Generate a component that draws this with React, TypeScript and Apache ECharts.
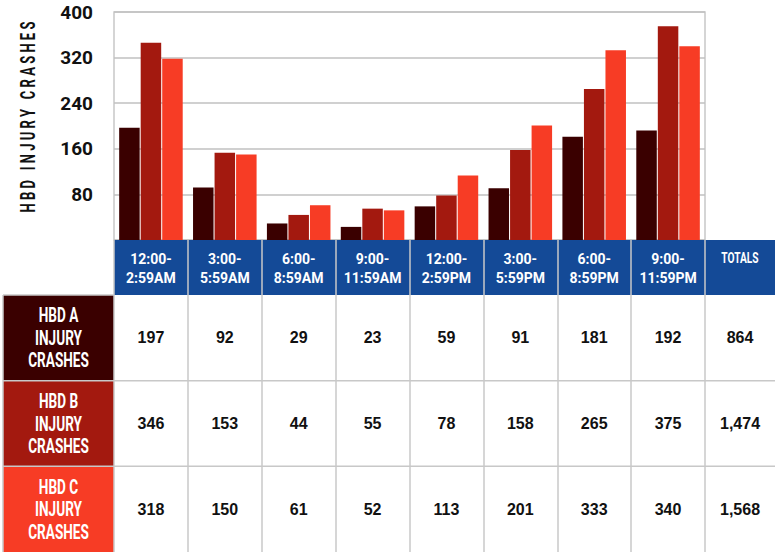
import React, { useEffect, useRef } from "react";
import * as echarts from "echarts";

const categories = [
  "12:00-\n2:59AM",
  "3:00-\n5:59AM",
  "6:00-\n8:59AM",
  "9:00-\n11:59AM",
  "12:00-\n2:59PM",
  "3:00-\n5:59PM",
  "6:00-\n8:59PM",
  "9:00-\n11:59PM",
];
const seriesLabels = ["HBD A\nINJURY\nCRASHES", "HBD B\nINJURY\nCRASHES", "HBD C\nINJURY\nCRASHES"];
const hbdA = [197, 92, 29, 23, 59, 91, 181, 192];
const hbdB = [346, 153, 44, 55, 78, 158, 265, 375];
const hbdC = [318, 150, 61, 52, 113, 201, 333, 340];
const totals = ["864", "1,474", "1,568"];
const totalsHeader = "TOTALS";
const yTitle = "H B D   I N J U R Y   C R A S H E S";
const yMin = 0;
const yMax = 400;
const yInterval = 80;

const colors = ["#3a0000", "#a3190f", "#f73c25"];
const BLUE = "#144a97";
const LINE = "#c8c8c8";
const COND = "Roboto, 'Liberation Sans', sans-serif";
const PLAIN = "'Liberation Sans', Arial, Helvetica, sans-serif";

export default function App() {
  const ref = useRef<HTMLDivElement>(null);
  useEffect(() => {
    document.body.style.margin = "0";
    if (!ref.current) return;
    const chart = echarts.init(ref.current, undefined, { renderer: "svg" });
    const W = 775, H = 552;
    const gridLeft = 114, gridTop = 12, gridRight = 70;
    const plotBottom = 240;
    const headerH = 55;
    const tableTop = plotBottom + headerH;
    const rowH = (H - tableTop) / 3;
    const plotW = W - gridLeft - gridRight;
    const colW = plotW / categories.length;
    const labelLeft = 3;
    const rows = [hbdA, hbdB, hbdC];

    const graphic: any[] = [];
    graphic.push({ type: "rect", z: 50, shape: { x: gridLeft, y: plotBottom, width: W - gridLeft, height: headerH }, style: { fill: BLUE } });
    graphic.push({ type: "text", z: 70, x: W - gridRight / 2, y: plotBottom + 18, scaleX: 0.68, style: { text: totalsHeader, fill: "#fff", font: `bold 15px ${COND}`, align: "center", verticalAlign: "middle" } });
    graphic.push({ type: "text", z: 70, x: 28, y: 117, rotation: Math.PI / 2, scaleX: 0.62, style: { text: yTitle, fill: "#111", font: `bold 21px ${COND}`, align: "center", verticalAlign: "middle" } });
    rows.forEach((vals, i) => {
      const y0 = tableTop + i * rowH;
      graphic.push({ type: "rect", z: 50, shape: { x: labelLeft, y: y0, width: gridLeft - labelLeft, height: rowH }, style: { fill: colors[i] } });
      graphic.push({ type: "text", z: 70, x: (labelLeft + gridLeft) / 2, y: y0 + rowH / 2, scaleX: 0.68, style: { text: seriesLabels[i], fill: "#fff", font: `bold 20px ${COND}`, lineHeight: 22.5, align: "center", verticalAlign: "middle" } });
      vals.forEach((v, j) => {
        graphic.push({ type: "text", z: 70, x: gridLeft + (j + 0.5) * colW, y: y0 + rowH / 2, style: { text: String(v), fill: "#111", font: `bold 16px ${PLAIN}`, align: "center", verticalAlign: "middle" } });
      });
      graphic.push({ type: "text", z: 70, x: W - gridRight / 2, y: y0 + rowH / 2, style: { text: totals[i], fill: "#111", font: `bold 16px ${PLAIN}`, align: "center", verticalAlign: "middle" } });
      if (i > 0) {
        graphic.push({ type: "line", z: 60, shape: { x1: labelLeft, y1: y0, x2: W, y2: y0 }, style: { stroke: LINE, lineWidth: 1.5 } });
      }
    });
    graphic.push({ type: "line", z: 60, shape: { x1: labelLeft, y1: tableTop, x2: gridLeft, y2: tableTop }, style: { stroke: LINE, lineWidth: 1.5 } });
    graphic.push({ type: "line", z: 60, shape: { x1: labelLeft, y1: tableTop, x2: labelLeft, y2: H }, style: { stroke: LINE, lineWidth: 1.5 } });

    const barBase = { type: "bar", barWidth: 20.5, barGap: "5%", z: 2 };
    chart.setOption({
      animation: false,
      grid: { left: gridLeft, top: gridTop, right: gridRight, bottom: H - plotBottom, outerBoundsMode: "none", containLabel: false, show: true, borderColor: LINE, borderWidth: 1.5, backgroundColor: "transparent" },
      xAxis: {
        type: "category",
        data: categories,
        z: 60,
        axisLine: { show: false },
        axisTick: { show: true, interval: 0, alignWithLabel: false, length: H - plotBottom, lineStyle: { color: LINE, width: 1.5 } },
        axisLabel: { interval: 0, margin: 9, color: "#fff", fontSize: 14, fontWeight: "bold", fontFamily: COND, lineHeight: 19.5 },
      },
      yAxis: {
        type: "value",
        min: yMin,
        max: yMax,
        interval: yInterval,
        axisLine: { show: false },
        axisTick: { show: false },
        splitLine: { lineStyle: { color: "#c0c0c0", width: 1.5 } },
        axisLabel: { margin: 21, color: "#111", fontSize: 19, fontWeight: "bold", fontFamily: COND, formatter: (v: number) => (v === 0 ? "" : String(v)) },
      },
      series: [
        { ...barBase, name: "HBD A", data: hbdA, itemStyle: { color: colors[0] } },
        { ...barBase, name: "HBD B", data: hbdB, itemStyle: { color: colors[1] } },
        { ...barBase, name: "HBD C", data: hbdC, itemStyle: { color: colors[2] } },
      ],
      graphic,
    });
    return () => chart.dispose();
  }, []);
  return <div ref={ref} style={{ width: 775, height: 552 }} />;
}
